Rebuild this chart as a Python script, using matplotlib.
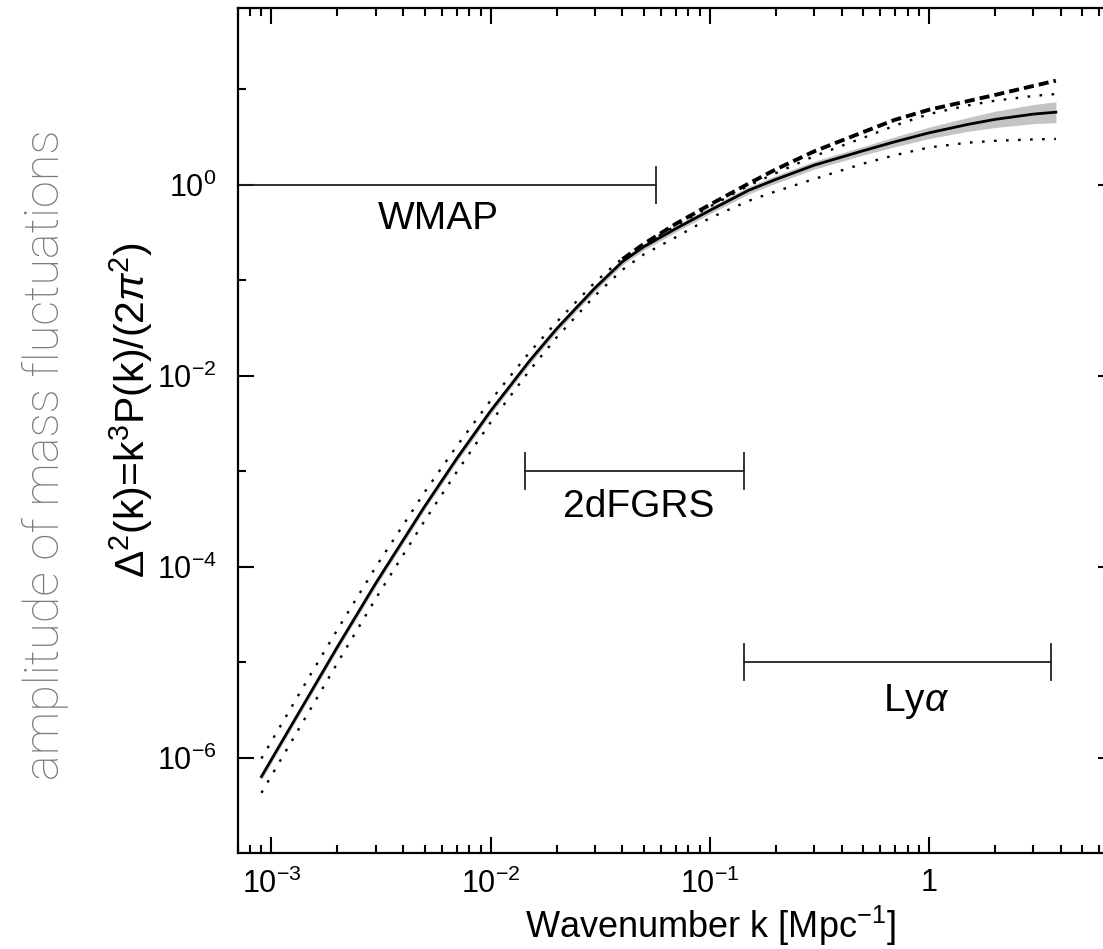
import numpy as np
import matplotlib
matplotlib.use("Agg")
import matplotlib.pyplot as plt
from matplotlib.ticker import FixedLocator, FixedFormatter, LogLocator, NullFormatter

plt.rcParams['font.family'] = ['Liberation Sans', 'DejaVu Sans']
plt.rcParams['mathtext.fontset'] = 'custom'
plt.rcParams['mathtext.rm'] = 'Liberation Sans'
plt.rcParams['mathtext.it'] = 'Liberation Sans:italic'
plt.rcParams['mathtext.bf'] = 'Liberation Sans:bold'

k = [9e-4, 1e-3, 1.5e-3, 2e-3, 3e-3, 5e-3, 7e-3, 1e-2, 1.5e-2, 2e-2, 3e-2, 4e-2, 5e-2,
     7e-2, 0.1, 0.15, 0.2, 0.3, 0.5, 0.7, 1.0, 1.5, 2.0, 3.0, 3.8]
# best fit Delta^2(k), log10 values
logd_fit = [-6.20, -6.02, -5.33, -4.84, -4.17, -3.37, -2.87, -2.37, -1.85, -1.51, -1.08, -0.805, -0.65,
            -0.46, -0.27, -0.06, 0.055, 0.205, 0.355, 0.45, 0.543, 0.631, 0.684, 0.740, 0.76]
# 1-sigma band half width (dex)
band_dex = [0.035, 0.035, 0.035, 0.035, 0.035, 0.035, 0.035, 0.035, 0.035, 0.035, 0.035, 0.035, 0.035,
            0.035, 0.035, 0.038, 0.04, 0.042, 0.045, 0.052, 0.06, 0.072, 0.085, 0.1, 0.11]
# dotted envelopes
logd_hi = [-6.01, -5.83, -5.14, -4.66, -4.00, -3.22, -2.74, -2.26, -1.76, -1.44, -1.02, -0.77, -0.63,
           -0.43, -0.23, -0.01, 0.12, 0.30, 0.49, 0.62, 0.74, 0.83, 0.88, 0.93, 0.95]
logd_lo = [-6.37, -6.19, -5.50, -5.01, -4.33, -3.52, -3.01, -2.49, -1.95, -1.60, -1.16, -0.89, -0.73,
           -0.55, -0.35, -0.17, -0.07, 0.06, 0.22, 0.31, 0.39, 0.44, 0.46, 0.475, 0.48]
# dashed (non-linear) curve
k_nl = [0.04, 0.05, 0.07, 0.1, 0.15, 0.2, 0.3, 0.5, 0.7, 1.0, 1.5, 2.0, 3.0, 3.8]
logd_nl = [-0.78, -0.62, -0.41, -0.21, 0.01, 0.16, 0.35, 0.55, 0.68, 0.785, 0.875, 0.94, 1.035, 1.09]

# survey ranges
surveys = ['WMAP', '2dFGRS', r'Ly$\alpha$']
survey_kmin = [7e-4, 0.0143, 0.143]
survey_kmax = [0.0567, 0.143, 3.6]
survey_level = [1.0, 1e-3, 1e-5]

k = np.array(k)
fit = 10 ** np.array(logd_fit)
band_hi = 10 ** (np.array(logd_fit) + np.array(band_dex))
band_lo = 10 ** (np.array(logd_fit) - np.array(band_dex))

fig = plt.figure(figsize=(11.03, 9.49), dpi=100)
ax = fig.add_axes([237.5 / 1103, 96 / 949, 876.5 / 1103, 845 / 949])
ax.set_xscale('log')
ax.set_yscale('log')
ax.set_xlim(7e-4, 7)
ax.set_ylim(1e-7, 71)

ax.fill_between(k, band_lo, band_hi, color='#c4c4c4', lw=0, zorder=1)
ax.plot(k, fit, color='black', lw=2.0, zorder=3)
ax.plot(k, 10 ** np.array(logd_hi), color='black', lw=1.7, ls=(0, (1.1, 4.0)), zorder=2)
ax.plot(k, 10 ** np.array(logd_lo), color='black', lw=1.7, ls=(0, (1.1, 4.0)), zorder=2)
ax.plot(k_nl, 10 ** np.array(logd_nl), color='black', lw=2.8, ls=(0, (2.6, 1.3)), zorder=3)

# survey range bars
for kmin, kmax, lev in zip(survey_kmin, survey_kmax, survey_level):
    ax.plot([kmin, kmax], [lev, lev], color='#222222', lw=1.3)
    ends = [kmax] if kmin <= 7e-4 else [kmin, kmax]
    for ke in ends:
        ax.plot([ke, ke], [lev * 10 ** (-0.19), lev * 10 ** 0.19], color='#222222', lw=1.3)

ax.text(5.8e-3, 0.44, surveys[0], fontsize=28, ha='center', va='center')
ax.text(0.0475, 4.25e-4, surveys[1], fontsize=28, ha='center', va='center')
ax.text(0.873, 3.86e-6, surveys[2], fontsize=28, ha='center', va='center')

# ticks
ax.xaxis.set_major_locator(FixedLocator([1e-3, 1e-2, 1e-1, 1]))
ax.xaxis.set_major_formatter(FixedFormatter(['10$^{-3}$', '10$^{-2}$', '10$^{-1}$', '1']))
ax.xaxis.set_minor_locator(LogLocator(base=10, subs=np.arange(2, 10)))
ax.xaxis.set_minor_formatter(NullFormatter())
ax.yaxis.set_major_locator(FixedLocator([1e-6, 1e-4, 1e-2, 1]))
ax.yaxis.set_major_formatter(FixedFormatter(['10$^{-6}$', '10$^{-4}$', '10$^{-2}$', '10$^{0}$']))
ax.yaxis.set_minor_locator(FixedLocator([1e-5, 1e-3, 1e-1, 10]))
ax.yaxis.set_minor_formatter(NullFormatter())
ax.tick_params(which='both', direction='in', top=True, right=True, width=1.5, labelsize=22)
ax.tick_params(axis='x', which='major', length=11.5, pad=11)
ax.tick_params(axis='y', which='major', length=11.5, pad=15)
ax.tick_params(which='minor', length=5.5)
for s in ax.spines.values():
    s.set_linewidth(1.6)

fig.text(710 / 1103, 1 - 938 / 949, 'Wavenumber k [Mpc$^{-1}$]', fontsize=26,
         ha='center', va='baseline')
fig.text(131 / 1103, 1 - 410 / 949, r'$\Delta$$^2$(k)=k$^3$P(k)/(2$\pi$$^2$)', fontsize=29.5,
         rotation=90, ha='center', va='center')
fig.text(45 / 1103, 1 - 455 / 949, 'amplitude of mass fluctuations', fontsize=35,
         rotation=90, ha='center', va='center', color='#7a7a7a',
         family=['Roboto', 'DejaVu Sans'], fontweight='light')

fig.savefig('out.png', dpi=100, facecolor='white')
